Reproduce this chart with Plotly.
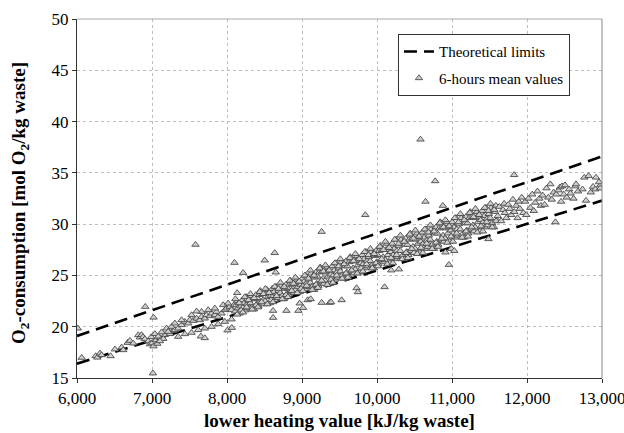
import plotly.graph_objects as go

# Theoretical limit lines (lower heating value vs. O2 consumption)
limit_lhv = [6000, 13000]
limit_upper = [19.1, 36.6]
limit_lower = [16.4, 32.3]

# 6-hour mean values, low heating-value end (6,000 - 8,100 kJ/kg)
low_lhv = [6063, 6249, 6271, 6306, 6328, 6448, 6506, 6595, 6617, 6675, 6706, 6750, 6817, 6839,
           6860, 6880, 6905, 6950, 6972, 7000, 7020, 7050, 6990, 7070, 7110, 7170, 7240, 7280,
           7039, 7083, 7128, 7150, 7106, 7194, 7216, 7261, 7305, 7305, 7349, 7394, 7438, 7483,
           7505, 7549, 7594, 7638, 7660, 7704, 7727, 7771, 7794, 7838, 7860, 7882, 7927, 7971,
           7993, 8037, 8060, 8094, 7349, 7438, 7527, 7616, 7704, 7794, 7882, 7971, 8060, 7394,
           7527, 7660, 7749, 7838, 7949, 8015]
low_o2 = [16.98, 17.14, 17.0, 17.4, 17.24, 17.14, 17.8, 17.99, 17.73, 18.44, 18.64, 18.38, 19.19, 18.97,
          19.2, 19.0, 18.8, 18.6, 18.3, 18.4, 18.1, 18.7, 19.0, 18.35, 18.9, 19.2, 19.3, 19.6,
          19.3, 19.05, 19.47, 18.82, 18.6, 19.84, 19.51, 20.0, 20.33, 19.68, 19.84, 20.17, 20.49, 20.33,
          20.65, 20.58, 20.81, 20.65, 20.97, 20.81, 21.14, 21.04, 21.3, 21.14, 21.46, 20.97, 21.3, 21.63,
          21.79, 21.95, 21.63, 22.12, 19.03, 19.29, 19.42, 19.68, 19.84, 20.0, 20.26, 20.49, 20.72, 20.65,
          21.14, 21.46, 21.63, 21.79, 22.12, 22.28]

# 6-hour mean values, dense band (8,100 - 9,100 kJ/kg)
band1_lhv = [8108, 8120, 8133, 8145, 8158, 8170, 8183, 8195,
             8203, 8215, 8228, 8240, 8252, 8265, 8277, 8290,
             8310, 8322, 8335, 8348, 8360, 8372, 8385, 8397,
             8405, 8418, 8430, 8443, 8455, 8468, 8480, 8492,
             8508, 8520, 8533, 8545, 8558, 8570, 8583, 8595,
             8603, 8615, 8628, 8640, 8652, 8665, 8677, 8690,
             8710, 8722, 8735, 8748, 8760, 8772, 8785, 8797,
             8805, 8818, 8830, 8843, 8855, 8868, 8880, 8892,
             8908, 8920, 8933, 8945, 8958, 8970, 8983, 8995,
             9003, 9015, 9028, 9040, 9052, 9065, 9077, 9090]
band1_o2 = [21.5, 22.1, 22.5, 21.8, 22.3, 21.3, 22.0, 22.4,
            22.6, 21.9, 22.3, 21.6, 22.9, 22.2, 21.8, 22.5,
            22.3, 23.0, 21.9, 22.7, 21.7, 22.7, 23.1, 22.2,
            22.8, 22.0, 23.1, 23.5, 22.4, 23.2, 22.6, 22.2,
            22.5, 23.2, 23.6, 22.9, 23.3, 22.3, 23.0, 23.4,
            23.7, 23.0, 23.4, 22.6, 23.9, 23.2, 22.8, 23.5,
            23.3, 24.0, 23.0, 23.8, 22.7, 23.7, 24.1, 23.2,
            23.8, 23.1, 24.1, 24.5, 23.4, 24.2, 23.7, 23.3,
            23.6, 24.2, 24.6, 23.9, 24.4, 23.4, 24.1, 24.5,
            24.7, 24.0, 24.4, 23.7, 25.0, 24.3, 23.9, 24.6]

# 6-hour mean values, dense band (9,100 - 10,100 kJ/kg)
band2_lhv = [9110, 9122, 9135, 9148, 9160, 9172, 9185, 9197,
             9205, 9218, 9230, 9243, 9255, 9268, 9280, 9292,
             9308, 9320, 9333, 9345, 9358, 9370, 9383, 9395,
             9403, 9415, 9428, 9440, 9452, 9465, 9477, 9490,
             9510, 9522, 9535, 9548, 9560, 9572, 9585, 9597,
             9605, 9618, 9630, 9643, 9655, 9668, 9680, 9692,
             9708, 9720, 9733, 9745, 9758, 9770, 9783, 9795,
             9803, 9815, 9828, 9840, 9852, 9865, 9877, 9890,
             9910, 9922, 9935, 9948, 9960, 9972, 9985, 9997,
             10005, 10018, 10030, 10043, 10055, 10068, 10080, 10092]
band2_o2 = [24.3, 25.2, 23.9, 24.9, 23.6, 24.8, 25.3, 24.2,
            24.9, 24.0, 25.3, 25.8, 24.4, 25.4, 24.7, 24.2,
            24.5, 25.3, 25.8, 24.9, 25.5, 24.2, 25.1, 25.6,
            25.9, 25.0, 25.5, 24.6, 26.2, 25.3, 24.8, 25.7,
            25.4, 26.3, 25.0, 26.0, 24.7, 25.9, 26.4, 25.3,
            25.9, 25.0, 26.3, 26.8, 25.4, 26.4, 25.7, 25.2,
            25.6, 26.4, 26.9, 26.0, 26.6, 25.3, 26.2, 26.7,
            27.0, 26.1, 26.6, 25.7, 27.3, 26.4, 25.9, 26.8,
            26.4, 27.3, 26.0, 27.0, 25.7, 26.9, 27.4, 26.3,
            27.0, 26.1, 27.4, 27.9, 26.5, 27.5, 26.8, 26.3]

# 6-hour mean values, dense band (10,100 - 11,600 kJ/kg)
band3_lhv = [10108, 10120, 10133, 10145, 10158, 10170, 10183, 10195,
             10203, 10215, 10228, 10240, 10252, 10265, 10277, 10290,
             10310, 10322, 10335, 10348, 10360, 10372, 10385, 10397,
             10405, 10418, 10430, 10443, 10455, 10468, 10480, 10492,
             10508, 10520, 10533, 10545, 10558, 10570, 10583, 10595,
             10603, 10615, 10628, 10640, 10652, 10665, 10677, 10690,
             10710, 10722, 10735, 10748, 10760, 10772, 10785, 10797,
             10805, 10818, 10830, 10843, 10855, 10868, 10880, 10892,
             10908, 10920, 10933, 10945, 10958, 10970, 10983, 10995,
             11003, 11015, 11028, 11040, 11052, 11065, 11077, 11090,
             11110, 11122, 11135, 11148, 11160, 11172, 11185, 11197,
             11205, 11218, 11230, 11243, 11255, 11268, 11280, 11292,
             11308, 11320, 11333, 11345, 11358, 11370, 11383, 11395,
             11403, 11415, 11428, 11440, 11452, 11465, 11477, 11490,
             11510, 11522, 11535, 11548, 11560, 11572, 11585, 11597]
band3_o2 = [26.5, 27.5, 28.1, 27.0, 27.7, 26.2, 27.3, 27.9,
            28.1, 27.0, 27.6, 26.6, 28.5, 27.4, 26.8, 27.9,
            27.4, 28.5, 26.9, 28.1, 26.6, 28.0, 28.6, 27.3,
            28.0, 27.0, 28.5, 29.1, 27.4, 28.6, 27.8, 27.2,
            27.6, 28.5, 29.1, 28.1, 28.8, 27.2, 28.3, 28.9,
            29.2, 28.1, 28.7, 27.6, 29.5, 28.4, 27.8, 28.9,
            28.5, 29.5, 28.0, 29.2, 27.6, 29.1, 29.7, 28.3,
            29.1, 28.0, 29.6, 30.2, 28.5, 29.7, 28.9, 28.3,
            28.6, 29.6, 30.2, 29.1, 29.8, 28.3, 29.4, 30.0,
            30.2, 29.1, 29.7, 28.7, 30.6, 29.5, 28.9, 30.0,
            29.5, 30.6, 29.0, 30.2, 28.7, 30.1, 30.7, 29.4,
            30.1, 29.1, 30.6, 31.2, 29.5, 30.7, 29.9, 29.3,
            29.7, 30.6, 31.2, 30.2, 30.9, 29.3, 30.4, 31.0,
            31.3, 30.2, 30.8, 29.7, 31.6, 30.5, 29.9, 31.0,
            30.6, 31.6, 30.1, 31.3, 29.7, 31.2, 31.8, 30.4]

# 6-hour mean values along the upper and lower edges of the band (8,100 - 11,600 kJ/kg)
edge_lhv = [8112, 8137, 8162, 8187, 8212, 8237, 8262, 8287, 8312, 8337, 8362, 8387,
            8412, 8437, 8462, 8487, 8512, 8537, 8562, 8587, 8612, 8637, 8662, 8687,
            8712, 8737, 8762, 8787, 8812, 8837, 8862, 8887, 8912, 8937, 8962, 8987,
            9012, 9037, 9062, 9087, 9112, 9137, 9162, 9187, 9212, 9237, 9262, 9287,
            9312, 9337, 9362, 9387, 9412, 9437, 9462, 9487, 9512, 9537, 9562, 9587,
            9612, 9637, 9662, 9687, 9712, 9737, 9762, 9787, 9812, 9837, 9862, 9887,
            9912, 9937, 9962, 9987, 10012, 10037, 10062, 10087, 10112, 10137, 10162, 10187,
            10212, 10237, 10262, 10287, 10312, 10337, 10362, 10387, 10412, 10437, 10462, 10487,
            10512, 10537, 10562, 10587, 10612, 10637, 10662, 10687, 10712, 10737, 10762, 10787,
            10812, 10837, 10862, 10887, 10912, 10937, 10962, 10987, 11012, 11037, 11062, 11087,
            11112, 11137, 11162, 11187, 11212, 11237, 11262, 11287, 11312, 11337, 11362, 11387,
            11412, 11437, 11462, 11487, 11512, 11537, 11562, 11587]
edge_o2 = [22.7, 21.2, 22.3, 21.6, 21.4, 22.9, 21.9, 22.6, 23.2, 21.7, 22.8, 22.1,
           21.9, 23.4, 22.4, 23.2, 23.7, 22.2, 23.3, 22.6, 22.4, 23.9, 23.0, 23.7,
           24.3, 22.7, 23.9, 23.1, 22.9, 24.5, 23.5, 24.2, 24.8, 23.3, 24.4, 23.7,
           23.5, 25.0, 24.0, 24.7, 25.5, 23.6, 25.0, 24.1, 23.8, 25.7, 24.5, 25.4,
           26.0, 24.1, 25.5, 24.6, 24.3, 26.2, 25.0, 25.9, 26.6, 24.7, 26.1, 25.2,
           24.8, 26.7, 25.5, 26.4, 27.1, 25.2, 26.6, 25.7, 25.4, 27.3, 26.1, 27.0,
           27.6, 25.7, 27.1, 26.2, 25.9, 27.8, 26.6, 27.5, 28.3, 26.1, 27.7, 26.7,
           26.2, 28.5, 27.0, 28.1, 28.9, 26.6, 28.3, 27.2, 26.7, 29.0, 27.6, 28.6,
           29.4, 27.1, 28.8, 27.7, 27.2, 29.5, 28.1, 29.2, 29.9, 27.6, 29.3, 28.2,
           27.8, 30.1, 28.6, 29.7, 30.4, 28.2, 29.8, 28.8, 28.3, 30.6, 29.1, 30.2,
           31.0, 28.7, 30.4, 29.3, 28.8, 31.1, 29.7, 30.7, 31.5, 29.2, 30.9, 29.8,
           29.3, 31.6, 30.2, 31.3, 32.0, 29.7, 31.4, 30.3]

# 6-hour mean values, high heating-value end (11,600 - 13,000 kJ/kg)
high_lhv = [11610, 11630, 11655, 11680, 11695, 11705, 11725, 11750, 11770, 11790,
            11812, 11830, 11855, 11875, 11890, 11905, 11930, 11950, 11975, 11990,
            12020, 12045, 12070, 12090, 12110, 12140, 12165, 12185, 12210, 12235,
            12260, 12285, 12311, 12330, 12355, 12390, 12420, 12440, 12455, 12467,
            12490, 12507, 12530, 12561, 12580, 12645, 12654, 12620, 12680, 12764,
            12787, 12740, 12822, 12880, 12850, 12910, 12920, 12977, 12977, 12960]
high_o2 = [30.8, 31.7, 30.3, 31.4, 32.0, 31.1, 30.6, 31.9, 31.5, 30.9,
           32.4, 31.2, 31.8, 30.6, 32.2, 31.5, 32.6, 31.1, 32.2, 30.9,
           32.5, 31.6, 32.9, 31.3, 32.1, 33.2, 32.5, 31.8, 32.8, 31.9,
           33.5, 32.6, 33.9, 32.4, 33.1, 32.9, 33.3, 33.6, 32.2, 33.7,
           32.9, 33.8, 32.6, 33.4, 33.0, 33.7, 33.9, 32.5, 33.2, 34.55,
           32.3, 33.4, 34.7, 33.65, 33.1, 33.4, 34.55, 33.8, 33.5, 34.1]

# 6-hour mean values lying away from the main band
outlier_lhv = [6010, 6910, 7021, 7012, 7580, 7594, 7651, 7704, 8006, 8064, 8100, 8135, 8215,
               8503, 8636, 8650, 8614, 8614, 8792, 8952, 8969, 9014, 9076, 9116, 9262, 9262,
               9369, 9387, 9529, 9728, 9745, 9844, 10101, 10190, 10292, 10580, 10776, 10647,
               10878, 11828, 10958, 10913, 11486, 12378, 10990, 11030]
outlier_o2 = [19.84, 21.95, 20.9, 15.46, 28.0, 21.5, 19.06, 18.9, 19.65, 19.9, 26.24, 23.3, 25.26,
              26.47, 27.2, 25.3, 21.56, 20.88, 21.56, 21.56, 22.28, 21.85, 22.6, 22.7, 29.26, 22.34,
              22.34, 22.4, 22.6, 23.77, 23.38, 30.9, 23.87, 25.5, 25.6, 38.26, 34.2, 32.2,
              31.8, 34.8, 26.04, 27.25, 28.55, 30.2, 27.6, 27.4]

x_ticks = [6000, 7000, 8000, 9000, 10000, 11000, 12000, 13000]
x_tick_text = ["6,000", "7,000", "8,000", "9,000", "10,000", "11,000", "12,000", "13,000"]
y_ticks = [15, 20, 25, 30, 35, 40, 45, 50]

mean_lhv = low_lhv + band1_lhv + band2_lhv + band3_lhv + edge_lhv + high_lhv + outlier_lhv
mean_o2 = low_o2 + band1_o2 + band2_o2 + band3_o2 + edge_o2 + high_o2 + outlier_o2

SERIF = "Liberation Serif, Times New Roman, serif"

fig = go.Figure()

fig.add_trace(go.Scatter(
    x=limit_lhv, y=limit_upper, mode="lines", name="Theoretical limits",
    line=dict(color="black", width=2.6, dash="13px,7px"),
    legendgroup="lim",
))
fig.add_trace(go.Scatter(
    x=limit_lhv, y=limit_lower, mode="lines", name="Theoretical limits",
    line=dict(color="black", width=2.6, dash="13px,7px"),
    legendgroup="lim", showlegend=False,
))
fig.add_trace(go.Scatter(
    x=mean_lhv, y=mean_o2, mode="markers", name="6-hours mean values",
    marker=dict(symbol="triangle-up", size=6.5, color="#cfcfcf",
                line=dict(color="#4a4a4a", width=0.9)),
))

axis_font = dict(family=SERIF, size=17, color="black")

fig.update_xaxes(
    range=[6000, 13000], tickvals=x_ticks, ticktext=x_tick_text,
    showgrid=True, gridcolor="#bdbdbd", griddash="dot", gridwidth=1,
    showline=True, linecolor="#333333", linewidth=1.2,
    ticks="outside", ticklen=4, tickcolor="#333333",
    tickfont=axis_font, zeroline=False, ticklabeloverflow="allow",
    automargin=False,
)
fig.update_yaxes(
    range=[15, 50], tickvals=y_ticks,
    showgrid=True, gridcolor="#bdbdbd", griddash="dot", gridwidth=1,
    showline=True, linecolor="#333333", linewidth=1.2,
    ticks="outside", ticklen=4, tickcolor="#333333",
    tickfont=axis_font, zeroline=False, automargin=False,
)

# light frame on the top and right of the plotting area
fig.add_shape(type="line", xref="paper", yref="paper", x0=0, x1=1, y0=1, y1=1,
              line=dict(color="#aaaaaa", width=1))
fig.add_shape(type="line", xref="paper", yref="paper", x0=1, x1=1, y0=0, y1=1,
              line=dict(color="#888888", width=1))

fig.add_annotation(
    text="<b>lower heating value [kJ/kg waste]</b>",
    xref="paper", yref="paper", x=0.5, y=-0.117, xanchor="center", yanchor="middle",
    showarrow=False, font=dict(family=SERIF, size=19, color="black"),
)
fig.add_annotation(
    text="<b>O<sub>2</sub>-consumption [mol O<sub>2</sub>/kg waste]</b>",
    xref="paper", yref="paper", x=-0.109, y=0.487, xanchor="center", yanchor="middle",
    textangle=-90, showarrow=False, font=dict(family=SERIF, size=19, color="black"),
)

fig.update_layout(
    width=624, height=433,
    margin=dict(l=77, r=22, t=19, b=55, autoexpand=False),
    paper_bgcolor="white", plot_bgcolor="white",
    showlegend=True,
    legend=dict(
        x=0.611, y=0.958, xanchor="left", yanchor="top",
        bgcolor="white", bordercolor="#333333", borderwidth=1.2,
        font=dict(family=SERIF, size=15, color="black"),
        itemwidth=30, tracegroupgap=4,
    ),
)

fig.write_html("out.html")
